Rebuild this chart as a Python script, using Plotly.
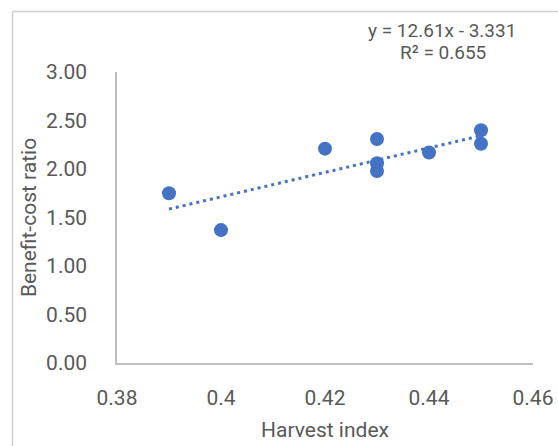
import plotly.graph_objects as go

# Data
harvest_index = [0.39, 0.40, 0.42, 0.43, 0.43, 0.43, 0.44, 0.45, 0.45]
benefit_cost = [1.75, 1.37, 2.21, 2.31, 2.06, 1.98, 2.17, 2.40, 2.26]

# Trendline coefficients shown on the chart
slope = 12.61
intercept = -3.331
r_squared = 0.655

x_ticks = [0.38, 0.40, 0.42, 0.44, 0.46]
x_tick_text = ["0.38", "0.4", "0.42", "0.44", "0.46"]
y_ticks = [0.0, 0.5, 1.0, 1.5, 2.0, 2.5, 3.0]
y_tick_text = ["0.00", "0.50", "1.00", "1.50", "2.00", "2.50", "3.00"]

FONT = "Liberation Sans Narrow, Roboto, Arial, sans-serif"
TXT = "#595959"
BLUE = "#4472C4"

trend_x = [min(harvest_index), max(harvest_index)]
trend_y = [slope * v + intercept for v in trend_x]

W, H = 558, 446
# plot area at screen x 117..533, y 72..363 (body margin removed below)
L, R, T, B = 117, W - 533, 72, H - 363
PW, PH = W - L - R, H - T - B


def px(sx):
    return (sx - L) / PW


def py(sy):
    return (H - B - sy) / PH


fig = go.Figure()
fig.add_trace(go.Scatter(
    x=trend_x, y=trend_y, mode="lines",
    line=dict(color=BLUE, width=3, dash="3px,4px"),
    showlegend=False, hoverinfo="skip",
))
fig.add_trace(go.Scatter(
    x=harvest_index, y=benefit_cost, mode="markers",
    marker=dict(color=BLUE, size=14, line=dict(width=0)),
    showlegend=False,
))

border = dict(color="#D0D0D0", width=1.5)
fig.update_layout(
    width=W, height=H,
    margin=dict(l=L, r=R, t=T, b=B, autoexpand=False),
    paper_bgcolor="white", plot_bgcolor="white",
    font=dict(family=FONT, color=TXT, size=21),
    xaxis=dict(
        range=[0.38, 0.46], tickvals=x_ticks, ticktext=x_tick_text,
        showgrid=False, zeroline=False, showline=True, linecolor="#BFBFBF", linewidth=1.5,
        ticks="", ticklabelstandoff=15, ticklabeloverflow="allow", automargin=False,
        title=dict(text="Harvest index", font=dict(size=21, color=TXT), standoff=13),
    ),
    yaxis=dict(
        range=[0, 3], tickvals=y_ticks, ticktext=y_tick_text,
        showgrid=False, zeroline=False, showline=True, linecolor="#BFBFBF", linewidth=1.5,
        ticks="", ticklabelstandoff=24, automargin=False,
        title=dict(text="Benefit-cost ratio", font=dict(size=21, color=TXT), standoff=4),
    ),
    shapes=[
        dict(type="line", xref="paper", yref="paper",
             x0=px(12.5), x1=px(560), y0=py(11.5), y1=py(11.5), line=border, layer="above"),
        dict(type="line", xref="paper", yref="paper",
             x0=px(12.5), x1=px(12.5), y0=py(11.5), y1=py(448), line=border, layer="above"),
    ],
    annotations=[
        dict(xref="paper", yref="paper", x=px(442), y=py(30),
             text="y = %.2fx - %.3f" % (slope, -intercept), showarrow=False,
             font=dict(size=19, color=TXT), xanchor="center", yanchor="middle"),
        dict(xref="paper", yref="paper", x=px(443), y=py(52),
             text="R² = %.3f" % r_squared, showarrow=False,
             font=dict(size=19, color=TXT), xanchor="center", yanchor="middle"),
    ],
)

fig.write_html(
    "out.html",
    config={"displayModeBar": False},
    post_script="document.body.style.margin='0';document.body.style.overflow='hidden';",
)
